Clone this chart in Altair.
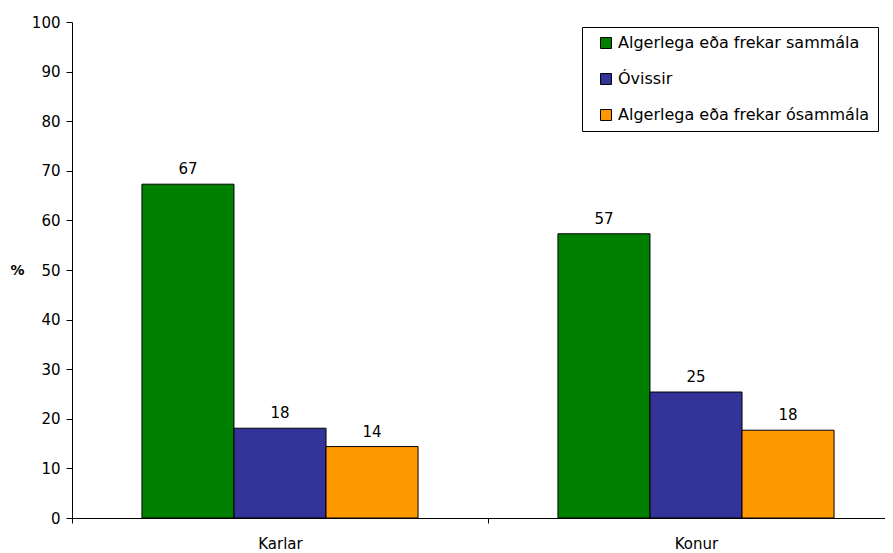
import altair as alt
import pandas as pd

groups = ["Karlar", "Konur"]
series = ["Algerlega eða frekar sammála", "Óvissir", "Algerlega eða frekar ósammála"]
colors = ["#008000", "#333399", "#FF9900"]
karlar = [67.3, 18.1, 14.4]
konur = [57.3, 25.4, 17.7]
karlar_lbl = ["67", "18", "14"]
konur_lbl = ["57", "25", "18"]

rows = []
for g, vals, lbls in [("Karlar", karlar, karlar_lbl), ("Konur", konur, konur_lbl)]:
    for s, v, l in zip(series, vals, lbls):
        rows.append({"group": g, "series": s, "value": v, "label": l})
df = pd.DataFrame(rows)

FONT = "DejaVu Sans"

x = alt.X(
    "group:N",
    sort=groups,
    scale=alt.Scale(range=[0, 832], paddingInner=0, paddingOuter=0),
    axis=alt.Axis(
        title=None, labelAngle=0, tickBand="extent", tickSize=5,
        labelPadding=13, labelFontSize=15, labelFont=FONT, labelColor="black",
        domainColor="black", tickColor="black", domainWidth=1,
    ),
)
xoff = alt.XOffset("series:N", sort=series,
                   scale=alt.Scale(paddingInner=0, paddingOuter=0.76))
y = alt.Y(
    "value:Q",
    scale=alt.Scale(domain=[0, 100]),
    axis=alt.Axis(
        values=list(range(0, 101, 10)), grid=False, tickSize=6, labelPadding=6,
        labelFontSize=15, labelFont=FONT, labelColor="black",
        domainColor="black", tickColor="black",
        title="%", titleAngle=0, titleX=-55, titleY=248, titleAlign="center",
        titleBaseline="middle", titleFontSize=14, titleFont=FONT, titleFontWeight="bold",
    ),
)

bars = alt.Chart(df).mark_bar(stroke="black", strokeWidth=1).encode(
    x=x, xOffset=xoff, y=y,
    color=alt.Color(
        "series:N", sort=series,
        scale=alt.Scale(domain=series, range=colors),
        legend=alt.Legend(
            title=None, orient="none", legendX=510, legendY=5,
            strokeColor="black", fillColor="white", padding=8, symbolOffset=8,
            symbolType="square", symbolSize=120, symbolStrokeColor="black",
            symbolStrokeWidth=1, labelFontSize=16, labelFont=FONT, labelColor="black",
            rowPadding=20, labelOffset=4, labelLimit=400,
        ),
    ),
)

text = alt.Chart(df).mark_text(dy=-15, fontSize=15, font=FONT, color="black").encode(
    x=x, xOffset=xoff, y=y, text="label:N",
)

chart = (bars + text).properties(
    width=813, height=496,
    autosize=alt.AutoSizeParams(type="none"),
    padding={"left": 64, "top": 14, "right": 0, "bottom": 35},
).configure_view(stroke=None)

chart.save("out.html", embed_options={"renderer": "svg", "actions": False})
